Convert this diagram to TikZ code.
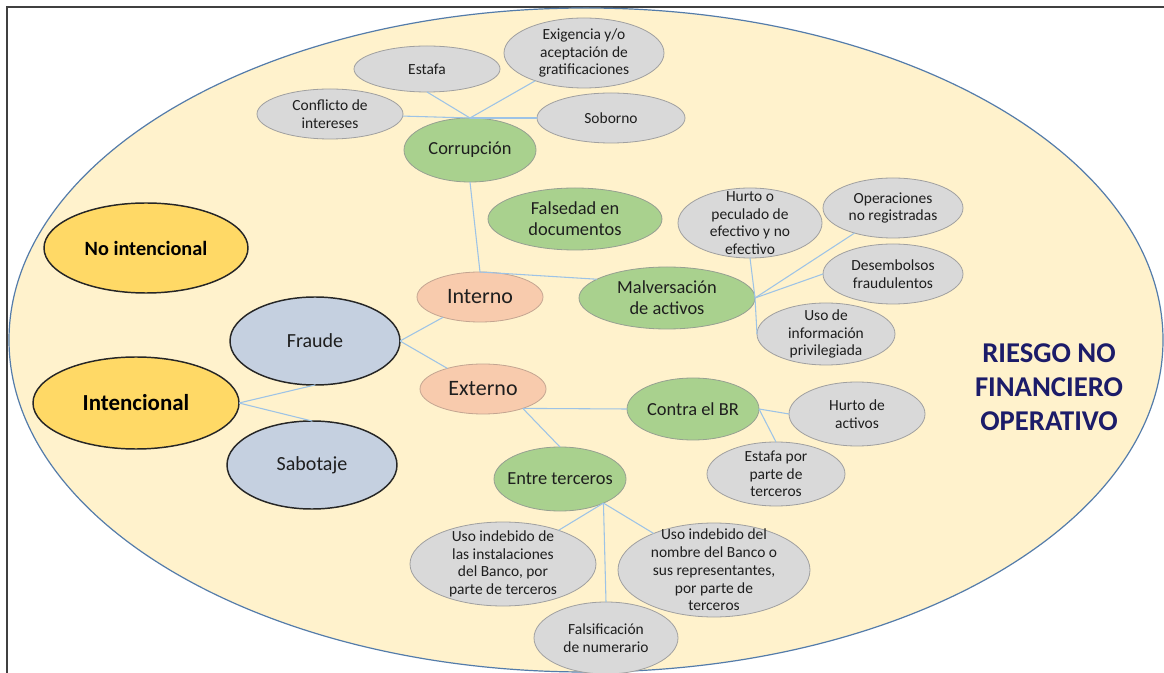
\documentclass[tikz,border=0pt]{standalone}
\usepackage{fontspec}
\setmainfont{Carlito}
\usetikzlibrary{shapes.geometric}
\definecolor{cream}{RGB}{255,242,204}
\definecolor{steel}{RGB}{84,124,170}
\definecolor{grayfill}{RGB}{217,217,217}
\definecolor{grayline}{RGB}{160,160,160}
\definecolor{greenfill}{RGB}{169,209,142}
\definecolor{greenline}{RGB}{150,160,145}
\definecolor{salmfill}{RGB}{248,203,173}
\definecolor{salmline}{RGB}{195,165,145}
\definecolor{bluefill}{RGB}{197,208,224}
\definecolor{yellfill}{RGB}{255,217,102}
\definecolor{connc}{RGB}{157,195,230}
\definecolor{framec}{RGB}{64,64,64}
\definecolor{txtc}{RGB}{30,30,30}
\definecolor{navy}{RGB}{28,28,105}
\tikzset{
  base/.style={ellipse, inner sep=0pt, outer sep=0pt},
  sz/.style 2 args={minimum width=#1*1.5pt, minimum height=#2*1.5pt},
  grayn/.style={base, fill=grayfill, draw=grayline, line width=0.6pt},
  greenn/.style={base, fill=greenfill, draw=greenline, line width=0.6pt},
  salmn/.style={base, fill=salmfill, draw=salmline, line width=0.6pt},
  bluen/.style={base, fill=bluefill, draw=black!85, line width=1.1pt},
  yelln/.style={base, fill=yellfill, draw=black!85, line width=1.1pt},
  gtxt/.style={align=center, inner sep=0pt, text=txtc, font=\fontsize{11.6}{13.3}\selectfont},
  grtxt/.style={align=center, inner sep=0pt, text=txtc, font=\fontsize{13.8}{15.5}\selectfont},
  bigtxt/.style={align=center, inner sep=0pt, text=txtc, font=\fontsize{16.5}{19}\selectfont},
  midtxt/.style={align=center, inner sep=0pt, text=txtc, font=\fontsize{15}{17}\selectfont},
  boldtxt/.style={align=center, inner sep=0pt, text=black, font=\fontsize{#1}{#1}\selectfont\bfseries},
  riesgo/.style={align=center, inner sep=0pt, text=navy, font=\fontsize{21.5}{25.5}\selectfont\bfseries},
  conn/.style={draw=connc, line width=0.8pt},
}
\begin{document}
\begin{tikzpicture}[x=0.75pt,y=-0.75pt]
\useasboundingbox (0,0) rectangle (1164,673);
\fill[white] (0,0) rectangle (1164,673);
\draw[framec, line width=1.1pt] (7,673) -- (7,7) -- (1164,7);
\draw[fill=cream, draw=steel, line width=0.9pt] (586,340) ellipse [x radius=577, y radius=332];

% Corrupcion group
\node[grayn, sz={73}{23}, label={[gtxt]center:Estafa}] (estafa) at (427,69) {};
\node[grayn, sz={80}{35}, label={[gtxt]center:{Exigencia y/o\\aceptación de\\gratificaciones}}] (exig) at (584,53) {};
\node[grayn, sz={73}{25}, label={[gtxt]center:{Conflicto de\\intereses}}] (confl) at (330,114) {};
\node[grayn, sz={74}{25}, label={[gtxt]center:Soborno}] (sob) at (611,118) {};
\node[greenn, sz={66}{32}, label={[grtxt]center:Corrupción}] (corr) at (470,150) {};

\node[greenn, sz={87}{31}, label={[grtxt]center:{Falsedad en\\documentos}}] (fals) at (575,219) {};
\node[greenn, sz={88}{31}, label={[grtxt]center:{Malversación\\de activos}}] (malv) at (667,298) {};
\node[grayn, sz={72}{35}, label={[gtxt]center:{Hurto o\\peculado de\\efectivo y no\\efectivo}}] (hurto) at (750,223) {};
\node[grayn, sz={70}{30}, label={[gtxt]center:{Operaciones\\no registradas}}] (oper) at (893,208) {};
\node[grayn, sz={70}{30}, label={[gtxt]center:{Desembolsos\\fraudulentos}}] (desem) at (893,274) {};
\node[grayn, sz={69}{31}, label={[gtxt]center:{Uso de\\información\\privilegiada}}] (usoinf) at (826,334) {};

\node[salmn, sz={63}{25}, label={[bigtxt]center:Interno}] (int) at (480,297) {};
\node[salmn, sz={63}{25}, label={[bigtxt]center:Externo}] (ext) at (483,389) {};

\node[bluen, sz={85}{44}, label={[midtxt]center:Fraude}] (fraude) at (315,341) {};
\node[bluen, sz={85}{44}, label={[midtxt]center:Sabotaje}] (sabot) at (312,465) {};
\node[yelln, sz={102}{45}, label={[boldtxt=15.2]center:No intencional}] (noint) at (146,248) {};
\node[yelln, sz={103}{46}, label={[boldtxt=17.2]center:Intencional}] (intenc) at (136,403) {};

\node[greenn, sz={66}{31}, label={[grtxt]center:Contra el BR}] (cbr) at (693,409) {};
\node[grayn, sz={68}{32}, label={[gtxt]center:{Hurto de\\activos}}] (hact) at (857,414) {};
\node[grayn, sz={69}{32}, label={[gtxt]center:{Estafa por\\parte de\\terceros}}] (epor) at (776,474) {};
\node[greenn, sz={66}{32}, label={[grtxt]center:Entre terceros}] (et) at (560,479) {};
\node[grayn, sz={93}{42}, label={[gtxt]center:{Uso indebido de\\las instalaciones\\del Banco, por\\parte de terceros}}] (usoinst) at (503,564) {};
\node[grayn, sz={96}{47}, label={[gtxt]center:{Uso indebido del\\nombre del Banco o\\sus representantes,\\por parte de\\terceros}}] (usonom) at (714,570) {};
\node[grayn, sz={72}{36}, label={[gtxt]center:{Falsificación\\de numerario}}] (falsif) at (606,638) {};

\node[riesgo] (rt) at (1049,387) {RIESGO NO\\FINANCIERO\\OPERATIVO};

% connectors
\draw[conn] (corr.north) -- (estafa.south);
\draw[conn] (corr.north) -- (exig);
\draw[conn] (corr.north) -- (confl);
\draw[conn] (corr.north) -- (sob);
\draw[conn] (corr.south) -- (int.north);
\draw[conn] (int.north) -- (malv.165);
\draw[conn] (malv.east) -- (hurto.south);
\draw[conn] (malv.east) -- (oper);
\draw[conn] (malv.east) -- (desem.west);
\draw[conn] (malv.east) -- (usoinf.west);
\draw[conn] (fraude.east) -- (int);
\draw[conn] (fraude.east) -- (ext);
\draw[conn] (intenc.east) -- (fraude.south);
\draw[conn] (intenc.east) -- (sabot.north);
\draw[conn] (ext.-26) -- (cbr.west);
\draw[conn] (ext.-26) -- (et.north);
\draw[conn] (cbr.east) -- (hact.west);
\draw[conn] (cbr.east) -- (epor.north);
\draw[conn] (et.-29) -- (usoinst);
\draw[conn] (et.-29) -- (falsif.north);
\draw[conn] (et.-29) -- (usonom);
\end{tikzpicture}
\end{document}
